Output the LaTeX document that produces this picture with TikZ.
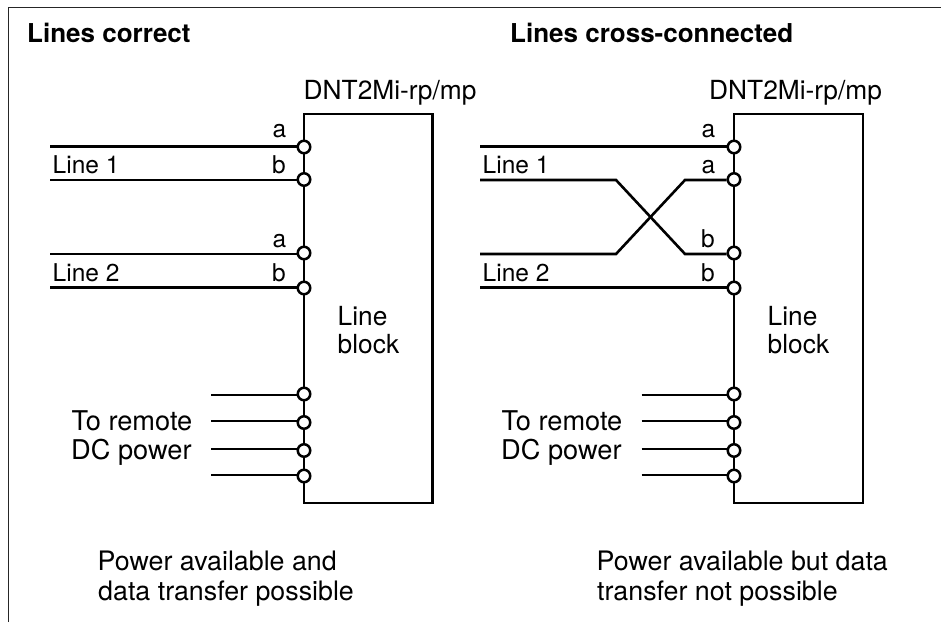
\documentclass[tikz,border=0pt]{standalone}
\usepackage{fontspec}
\setmainfont{TeX Gyre Heros}
\tikzset{
  wire/.style={line width=2.6pt,black},
  frameline/.style={line width=1.5pt,black!85},
  port/.style={circle,draw=black,fill=white,line width=2.5pt,minimum size=12.5pt,inner sep=0pt},
  txt/.style={inner sep=0pt,anchor=base west,font=\fontsize{26.3}{30}\selectfont},
  linetxt/.style={inner sep=0pt,anchor=base west,font=\fontsize{24.5}{30}\selectfont},
  pwrtxt/.style={inner sep=0pt,anchor=base west,font=\fontsize{27.2}{30}\selectfont},
  captxt/.style={inner sep=0pt,anchor=base west,font=\fontsize{26.8}{30}\selectfont},
  btxt/.style={inner sep=0pt,anchor=base west,font=\fontsize{26}{30}\selectfont\bfseries},
}
\begin{document}
\begin{tikzpicture}[x=1pt,y=-1pt]
\useasboundingbox (0,0) rectangle (941,622);
\coordinate (fa) at (8.5,622);
\coordinate (fb) at (8.5,7.5);
\coordinate (fc) at (941,7.5);
\draw[frameline] (fa) -- (fb) -- (fc);
\node[btxt] (t1) at (27,42) {Lines correct};
\node[btxt] (t2) at (510,42) {Lines cross-connected};
% left box
\node[txt] (d1) at (303.5,99) {DNT2Mi-rp/mp};
\draw[wire] (304,114) rectangle (432.5,503);
\foreach \n/\y in {a/147,b/179.5,c/253,d/288,e/394,f/422.5,g/450.5,h/476}{
  \node[port] (L\n) at (304,\y) {};
}
\coordinate (l1) at (50,146.5);
\coordinate (l2) at (50,180);
\coordinate (l3) at (50,254);
\coordinate (l4) at (50,287.5);
\draw[wire] (l1) -- (l1 -| La.west);
\draw[wire] (l2) -- (l2 -| Lb.west);
\draw[wire] (l3) -- (l3 -| Lc.west);
\draw[wire] (l4) -- (l4 -| Ld.west);
\foreach \n/\y in {e/395,f/421,g/449,h/475}{
  \coordinate (s\n) at (211,\y);
  \draw[wire] (s\n) -- (s\n -| L\n.west);
}
\node[linetxt] (l1a) at (272.5,137) {a};
\node[linetxt] (l1b) at (272,173) {b};
\node[linetxt] (l2a) at (272.5,247) {a};
\node[linetxt] (l2b) at (272,281.5) {b};
\node[linetxt] (l1t) at (52.5,173) {Line 1};
\node[linetxt] (l2t) at (52.5,281) {Line 2};
\node[txt] (lb1) at (337.5,325) {Line};
\node[txt] (lb2) at (337.5,353) {block};
\node[pwrtxt] (p1) at (71.5,430) {To remote};
\node[pwrtxt] (p2) at (71,459) {DC power};
\node[captxt] (c1) at (97.5,570) {Power available and};
\node[captxt] (c2) at (98,600) {data transfer possible};
% right box
\node[txt] (d2) at (709,99) {DNT2Mi-rp/mp};
\draw[wire] (734,114) rectangle (863,503);
\foreach \n/\y in {a/147,b/179.5,c/253,d/288,e/394,f/422.5,g/450.5,h/476}{
  \node[port] (R\n) at (734,\y) {};
}
\coordinate (r1) at (480,146.5);
\coordinate (r2) at (480,180);
\coordinate (r3) at (480,254);
\coordinate (r4) at (480,287.5);
\coordinate (x1) at (616,180);
\coordinate (x2) at (685,254);
\coordinate (x3) at (616,254);
\coordinate (x4) at (685,180);
\draw[wire] (r1) -- (r1 -| Ra.west);
\draw[wire] (r4) -- (r4 -| Rd.west);
\draw[wire] (r2) -- (x1) -- (x2) -- (x2 -| Rc.west);
\draw[wire] (r3) -- (x3) -- (x4) -- (x4 -| Rb.west);
\foreach \n/\y in {e/395,f/421,g/449,h/475}{
  \coordinate (u\n) at (641.5,\y);
  \draw[wire] (u\n) -- (u\n -| R\n.west);
}
\node[linetxt] (r1a) at (701.5,137) {a};
\node[linetxt] (r1b) at (701.5,173) {a};
\node[linetxt] (r2a) at (701,247) {b};
\node[linetxt] (r2b) at (701,281.5) {b};
\node[linetxt] (r1t) at (482.5,173) {Line 1};
\node[linetxt] (r2t) at (482.5,281) {Line 2};
\node[txt] (rb1) at (767.5,325) {Line};
\node[txt] (rb2) at (767.5,353) {block};
\node[pwrtxt] (q1) at (501.5,430) {To remote};
\node[pwrtxt] (q2) at (501,459) {DC power};
\node[captxt] (e1) at (596.5,570) {Power available but data};
\node[captxt] (e2) at (597,600) {transfer not possible};
\end{tikzpicture}
\end{document}
